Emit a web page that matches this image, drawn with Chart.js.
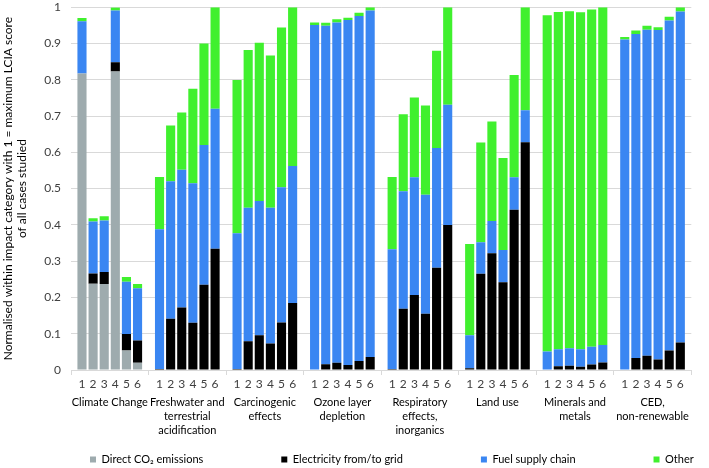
<!DOCTYPE html>
<html>
<head>
<meta charset="utf-8">
<script src="https://cdn.jsdelivr.net/npm/chart.js@4.4.1/dist/chart.umd.min.js"></script>
<style>
  html, body { margin: 0; padding: 0; background: #fff; }
  canvas { display: block; }
</style>
</head>
<body>
<canvas id="chart" width="709" height="468"></canvas>
<script>
// impact categories (one group of six cases each)
const categories = [
    'Climate Change',
    ['Freshwater and', 'terrestrial', 'acidification'],
    ['Carcinogenic', 'effects'],
    ['Ozone layer', 'depletion'],
    ['Respiratory', 'effects,', 'inorganics'],
    'Land use',
    ['Minerals and', 'metals'],
    ['CED,', 'non-renewable']
];
const caseNumbers = ['1', '2', '3', '4', '5', '6'];

// one row per category, one value per case
const directCO2 = [
    [0.817, 0.238, 0.237, 0.823, 0.054, 0.020],
    [0, 0, 0, 0, 0, 0],
    [0, 0, 0, 0, 0, 0],
    [0, 0, 0, 0, 0, 0],
    [0, 0, 0, 0, 0, 0],
    [0, 0, 0, 0, 0, 0],
    [0, 0, 0, 0, 0, 0],
    [0, 0, 0, 0, 0, 0]
];
const electricity = [
    [0, 0.028, 0.033, 0.025, 0.045, 0.061],
    [0.003, 0.141, 0.172, 0.130, 0.235, 0.334],
    [0.003, 0.079, 0.096, 0.073, 0.131, 0.185],
    [0, 0.016, 0.020, 0.014, 0.025, 0.036],
    [0.003, 0.169, 0.207, 0.155, 0.282, 0.400],
    [0.005, 0.265, 0.322, 0.242, 0.442, 0.628],
    [0, 0.010, 0.012, 0.009, 0.015, 0.021],
    [0, 0.033, 0.039, 0.029, 0.054, 0.076]
];
const fuelSupply = [
    [0.144, 0.143, 0.142, 0.143, 0.144, 0.144],
    [0.385, 0.379, 0.380, 0.385, 0.385, 0.386],
    [0.374, 0.368, 0.370, 0.374, 0.373, 0.377],
    [0.951, 0.933, 0.938, 0.951, 0.951, 0.955],
    [0.330, 0.324, 0.324, 0.328, 0.330, 0.331],
    [0.091, 0.087, 0.089, 0.089, 0.089, 0.088],
    [0.051, 0.047, 0.048, 0.048, 0.049, 0.048],
    [0.911, 0.893, 0.899, 0.908, 0.909, 0.912]
];
const other = [
    [0.009, 0.009, 0.012, 0.008, 0.013, 0.012],
    [0.144, 0.154, 0.158, 0.260, 0.280, 0.280],
    [0.422, 0.435, 0.436, 0.420, 0.440, 0.438],
    [0.007, 0.008, 0.009, 0.006, 0.009, 0.009],
    [0.199, 0.212, 0.220, 0.246, 0.268, 0.269],
    [0.251, 0.275, 0.274, 0.253, 0.282, 0.284],
    [0.927, 0.930, 0.929, 0.929, 0.930, 0.931],
    [0.007, 0.010, 0.011, 0.008, 0.011, 0.012]
];

const seriesNames = ['Direct CO\u2082 emissions', 'Electricity from/to grid', 'Fuel supply chain', 'Other'];
const seriesColors = ['#9eabae', '#000000', '#3a86f2', '#40f02e'];
const seriesValues = [directCO2, electricity, fuelSupply, other];

const FONT = 'Lato, sans-serif';
const TEXT_COLOR = '#404040';
const GRID_COLOR = '#d9d9d9';

// legend placement (Excel spreads the entries out)
const LEGEND_X = 90;
const LEGEND_Y = 460;
const LEGEND_GAP = 78;

const datasets = [];
caseNumbers.forEach((num, b) => {
    seriesValues.forEach((values, s) => {
        datasets.push({
            label: seriesNames[s],
            data: values.map(row => row[b]),
            backgroundColor: seriesColors[s],
            stack: 'case' + num
        });
    });
});

// numbers 1..6 under each bar
const caseLabels = {
    id: 'caseLabels',
    afterDraw(chart) {
        const ctx = chart.ctx;
        ctx.save();
        ctx.font = '12px ' + FONT;
        ctx.fillStyle = TEXT_COLOR;
        ctx.textAlign = 'center';
        ctx.textBaseline = 'middle';
        caseNumbers.forEach((num, b) => {
            const meta = chart.getDatasetMeta(b * seriesValues.length);
            meta.data.forEach(bar => {
                ctx.fillText(num, bar.x, chart.chartArea.bottom + 14);
            });
        });
        ctx.restore();
    }
};

const legendSpread = {
    id: 'legendSpread',
    beforeDraw(chart) {
        const lg = chart.legend;
        lg.left = LEGEND_X - LEGEND_GAP;
        lg.right = 2000;
        lg.top = LEGEND_Y - LEGEND_GAP - 6;
    }
};

const ctx = document.getElementById('chart').getContext('2d');
new Chart(ctx, {
    type: 'bar',
    data: { labels: categories, datasets: datasets },
    options: {
        responsive: false,
        animation: false,
        layout: { padding: { top: 5, right: 2, bottom: 0, left: 0 } },
        datasets: {
            bar: { categoryPercentage: 0.86, barPercentage: 0.82 }
        },
        plugins: {
            legend: {
                position: 'bottom',
                align: 'start',
                maxHeight: 32,
                labels: {
                    boxWidth: 6,
                    boxHeight: 6,
                    padding: LEGEND_GAP,
                    color: '#000',
                    font: { family: FONT, size: 11 },
                    filter: item => item.datasetIndex < seriesValues.length
                }
            },
            tooltip: { enabled: false }
        },
        scales: {
            x: {
                stacked: true,
                grid: {
                    display: true,
                    drawOnChartArea: false,
                    drawTicks: true,
                    tickLength: 5,
                    offset: true,
                    color: GRID_COLOR
                },
                border: { display: true, color: GRID_COLOR },
                ticks: {
                    color: '#000',
                    padding: 20,
                    maxRotation: 0,
                    autoSkip: false,
                    font: { family: FONT, size: 11, lineHeight: 1.3 }
                },
                afterFit(scale) { scale.height = 66; }
            },
            y: {
                stacked: true,
                min: 0,
                max: 1,
                grid: {
                    color: GRID_COLOR,
                    drawTicks: true,
                    tickLength: 10,
                    tickColor: 'rgba(0,0,0,0)'
                },
                border: { display: false },
                ticks: {
                    stepSize: 0.1,
                    padding: 0,
                    color: TEXT_COLOR,
                    font: { family: FONT, size: 12 },
                    callback: v => String(+v.toFixed(1))
                },
                title: {
                    display: true,
                    text: ['Normalised within impact category with 1 = maximum LCIA score', 'of all cases studied'],
                    color: '#000',
                    padding: { top: 1, bottom: 0 },
                    font: { family: FONT, size: 12, lineHeight: 1.2 }
                },
                afterFit(scale) { scale.width = 71; }
            }
        }
    },
    plugins: [caseLabels, legendSpread]
});
</script>
</body>
</html>
